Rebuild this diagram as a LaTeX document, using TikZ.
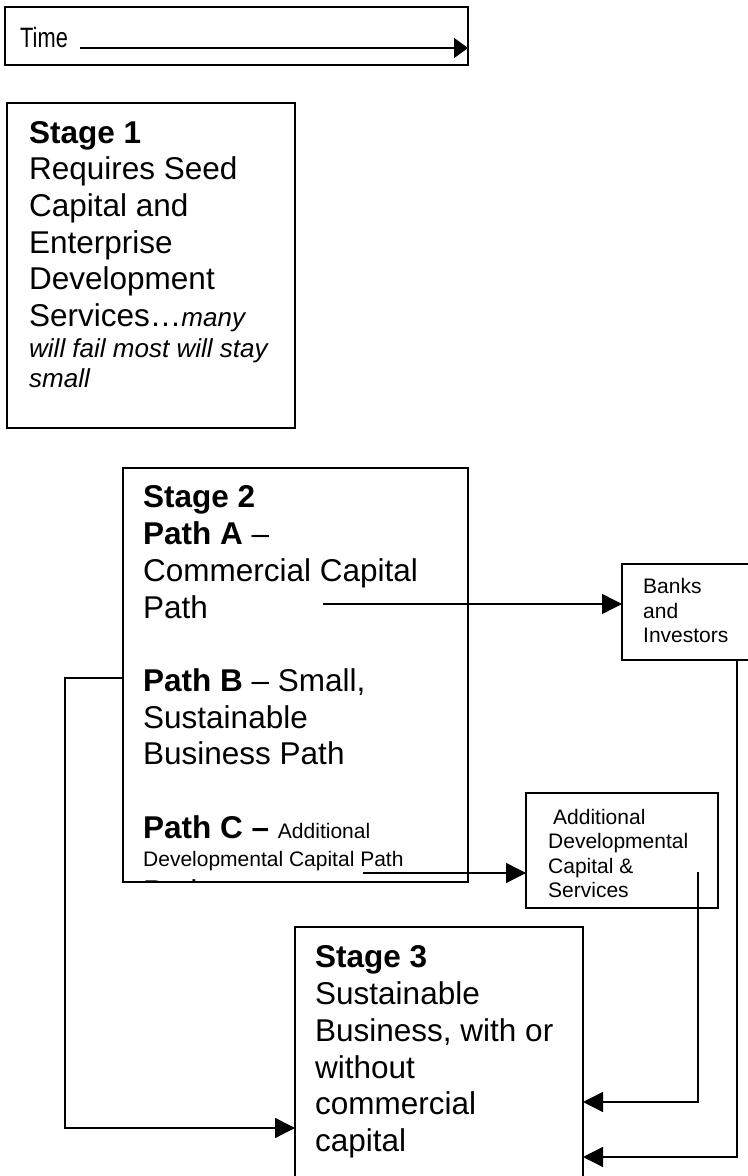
\documentclass[tikz,border=0pt]{standalone}
\usepackage{fontspec}
\usepackage{graphicx}
\setmainfont{Liberation Sans}
\usetikzlibrary{arrows.meta}

\tikzset{
  stagebox/.style={draw,line width=1.4bp,rectangle,inner sep=0pt,outer sep=0pt,anchor=north west},
  bigtxt/.style={inner sep=0pt,anchor=base west,align=left,font=\fontsize{31.5bp}{36.7bp}\selectfont},
  smalltxt/.style={inner sep=0pt,anchor=base west,align=left,font=\fontsize{21bp}{24.5bp}\selectfont},
  arr/.style={line width=1.4bp,-{Triangle[length=20bp,width=20bp]}},
  timearr/.style={line width=1.4bp,-{Triangle[length=14bp,width=20bp]}}
}
\newcommand{\smallpart}{\fontsize{21bp}{24.5bp}\selectfont}
\newcommand{\itpart}{\itshape\fontsize{26bp}{30bp}\selectfont}

\begin{document}
\begin{tikzpicture}[x=1bp,y=1bp]
\path[use as bounding box] (0,0) rectangle (748,1176);
% time line
\node[stagebox,minimum width=463bp,minimum height=58bp] (timebox) at (5,1169) {};
\node[inner sep=0pt,anchor=base west,font=\fontsize{28bp}{32bp}\selectfont] (timelbl) at (20,1128) {\scalebox{0.78}[1]{Time}};
\draw[timearr] ([xshift=12bp]timelbl.base east) -- (timelbl.base -| timebox.east);
% stage 1
\node[stagebox,minimum width=288bp,minimum height=325bp] (s1) at (7,1073) {};
\node[bigtxt] (s1txt) at (29,788) {\textbf{Stage 1}\\Requires Seed\\Capital and\\Enterprise\\Development\\Services\ldots{\itpart many}\\[-6bp]{\itpart will fail most will stay}\\[-6bp]{\itpart small}};
% stage 2 with its three paths
\node[stagebox,minimum width=345bp,minimum height=414bp] (s2) at (123,708) {};
\begin{scope}
\clip (s2.south west) rectangle (s2.north east);
\node[bigtxt] (s2txt) at (143,273) {\textbf{Stage 2}\\\textbf{Path A} --\\Commercial Capital\\Path\\[36.7bp]\textbf{Path B} -- Small,\\Sustainable\\Business Path\\[36.7bp]\textbf{Path C --} {\smallpart Additional}\\[-8bp]{\smallpart Developmental Capital Path}\\[-0.7bp]Path};
\end{scope}
% side boxes
\node[stagebox,minimum width=130bp,minimum height=96bp] (banks) at (622,612) {};
\node[smalltxt] (bankstxt) at (643,533) {Banks\\and\\Investors};
\node[stagebox,minimum width=192bp,minimum height=115bp] (adds) at (526,383) {};
\node[smalltxt] (addstxt) at (548,278) {\hspace{5bp}Additional\\Developmental\\Capital \&\\Services};
% stage 3
\node[stagebox,minimum width=288bp,minimum height=270bp] (s3) at (295,249) {};
\node[bigtxt] (s3txt) at (315,24.5) {\textbf{Stage 3}\\Sustainable\\Business, with or\\without\\commercial\\capital};
% connectors
\coordinate (pa) at (323,572);
\coordinate (pbturn) at (65,498);
\coordinate (pbend) at (0,48);
\coordinate (pc) at (363,303);
\coordinate (adtop) at (698,304);
\coordinate (in1) at (0,74);
\coordinate (bkfoot) at (737,516);
\coordinate (in2) at (0,19);
\draw[arr] (pa) -- (pa -| banks.west);
\draw[arr] (s2.west |- pbturn) -- (pbturn) |- (s3.west |- pbend);
\draw[arr] (pc) -- (pc -| adds.west);
\draw[arr] (adtop) |- (s3.east |- in1);
\draw[arr] (bkfoot) |- (s3.east |- in2);
\end{tikzpicture}
\end{document}
